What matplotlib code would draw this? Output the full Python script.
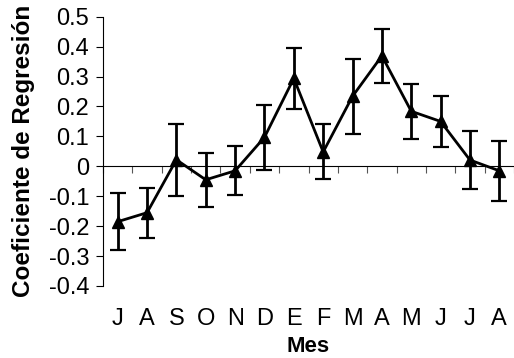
import matplotlib
matplotlib.use('Agg')
import matplotlib.pyplot as plt
from matplotlib.ticker import FixedLocator, NullFormatter

plt.rcParams['font.family'] = ['Liberation Sans', 'DejaVu Sans']

meses = ['J', 'A', 'S', 'O', 'N', 'D', 'E', 'F', 'M', 'A', 'M', 'J', 'J', 'A']
coef = [-0.185, -0.155, 0.022, -0.045, -0.015, 0.097, 0.294, 0.048,
        0.234, 0.369, 0.184, 0.150, 0.021, -0.015]
error = [0.095, 0.083, 0.120, 0.091, 0.082, 0.108, 0.102, 0.092,
         0.125, 0.090, 0.092, 0.086, 0.096, 0.101]
yticks = [0.5, 0.4, 0.3, 0.2, 0.1, 0, -0.1, -0.2, -0.3, -0.4]
ytick_labels = ['0.5', '0.4', '0.3', '0.2', '0.1', '0', '-0.1', '-0.2', '-0.3', '-0.4']

fig = plt.figure(figsize=(5.14, 3.58), dpi=100)
ax = fig.add_axes([103/514, 1 - 286/358, 411/514, (286 - 16.7)/358])

x = list(range(len(meses)))
ax.errorbar(x, coef, yerr=error, color='black', lw=2, marker='^', ms=8,
            mfc='black', mec='black', ecolor='black', elinewidth=2,
            capsize=6, capthick=1.6, zorder=3)

ax.set_xlim(-0.5, len(meses) - 0.5)
ax.set_ylim(-0.4, 0.5)
ax.set_yticks(yticks)
ax.set_yticklabels(ytick_labels, fontsize=17)
ax.tick_params(axis='y', direction='out', length=5, width=0.8, pad=5)

# x axis line crossing at zero with tick marks between categories
ax.spines['top'].set_visible(False)
ax.spines['right'].set_visible(False)
ax.spines['bottom'].set_position(('data', 0))
ax.spines['left'].set_linewidth(0.8)
ax.spines['bottom'].set_linewidth(0.8)
ax.xaxis.set_major_locator(FixedLocator([k + 0.5 for k in range(-1, len(meses))]))
ax.xaxis.set_major_formatter(NullFormatter())
ax.tick_params(axis='x', direction='out', length=5, width=0.8, color='#555555')

# month labels below the plot
sec = ax.secondary_xaxis('bottom')
sec.spines['bottom'].set_visible(False)
sec.set_xticks(x)
sec.set_xticklabels(meses, fontsize=17)
sec.tick_params(axis='x', length=0, pad=16)
sec.set_xlabel('Mes', fontsize=16, fontweight='bold', labelpad=4)

ax.set_ylabel('Coeficiente de Regresión', fontsize=17.5, fontweight='bold', labelpad=10)

fig.savefig('out.png', dpi=100)
